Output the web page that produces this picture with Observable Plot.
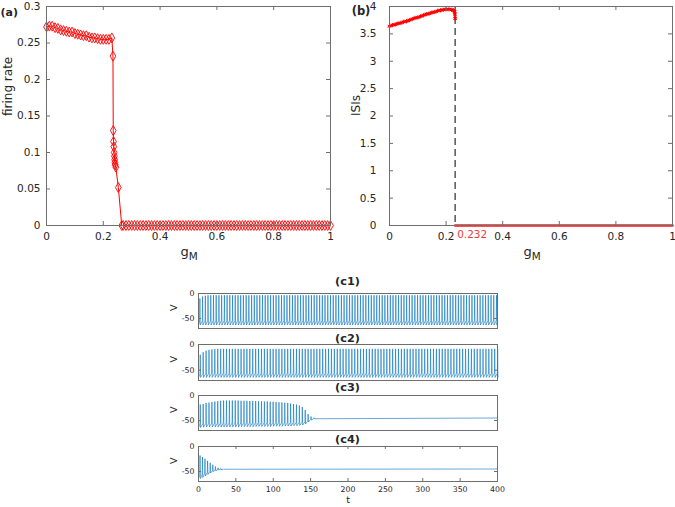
<!DOCTYPE html>
<html><head><meta charset="utf-8">
<script src="https://cdn.jsdelivr.net/npm/d3@7"></script>
<script src="https://cdn.jsdelivr.net/npm/@observablehq/plot@0.6"></script>
<style>
html,body{margin:0;padding:0;background:#fff;}
#fig{position:relative;width:675px;height:507px;overflow:hidden;font-family:"DejaVu Sans",sans-serif;color:#262626;background:#fff;}
.lbl{position:absolute;transform:translate(-50%,-50%);white-space:nowrap;line-height:1;}
.b{font-weight:bold;}
</style></head><body><div id="fig"></div>
<script>
// ---------- (a) firing rate vs g_M ----------
const aGPlateau = [0,0.01,0.02,0.03,0.04,0.05,0.06,0.07,0.08,0.09,0.10,0.11,0.12,0.13,0.14,0.15,0.16,0.17,0.18,0.19,0.20,0.21,0.22,0.23];
const aRatePlateau = [0.272,0.273,0.273,0.271,0.270,0.268,0.267,0.266,0.265,0.265,0.263,0.262,0.261,0.260,0.260,0.258,0.257,0.257,0.256,0.255,0.255,0.255,0.255,0.257];
const aGDrop = [0.234,0.235,0.236,0.237,0.238,0.239,0.240,0.241,0.242,0.244,0.253,0.265];
const aRateDrop = [0.232,0.130,0.115,0.108,0.100,0.095,0.090,0.086,0.083,0.080,0.052,0];
const aGZero = [0.27,0.28,0.29,0.30,0.31,0.32,0.33,0.34,0.35,0.36,0.37,0.38,0.39,0.40,0.41,0.42,0.43,0.44,0.45,0.46,0.47,0.48,0.49,0.50,0.51,0.52,0.53,0.54,0.55,0.56,0.57,0.58,0.59,0.60,0.61,0.62,0.63,0.64,0.65,0.66,0.67,0.68,0.69,0.70,0.71,0.72,0.73,0.74,0.75,0.76,0.77,0.78,0.79,0.80,0.81,0.82,0.83,0.84,0.85,0.86,0.87,0.88,0.89,0.90,0.91,0.92,0.93,0.94,0.95,0.96,0.97,0.98,0.99,1.00];
const zeroRate = 0;
const aXTicks = [0,0.2,0.4,0.6,0.8,1];
const aYTicks = [0,0.05,0.1,0.15,0.2,0.25,0.3];

// ---------- (b) ISIs vs g_M ----------
const bG = [0,0.01,0.02,0.03,0.04,0.05,0.06,0.07,0.08,0.09,0.10,0.11,0.12,0.13,0.14,0.15,0.16,0.17,0.18,0.19,0.20,0.21,0.22,0.225,0.23,0.231,0.232];
const bISI = [3.64,3.66,3.67,3.69,3.70,3.72,3.73,3.75,3.77,3.79,3.80,3.82,3.84,3.86,3.87,3.89,3.90,3.92,3.93,3.94,3.95,3.95,3.94,3.93,3.91,3.86,3.78];
const gCrit = 0.232;
const zeroISI = 0;
const bXTicks = [0,0.2,0.4,0.6,0.8,1];
const bYTicks = [0,0.5,1,1.5,2,2.5,3,3.5,4];

// ---------- (c1)-(c4) voltage traces ----------
const c1Times = [1.5,5.1,8.8,12.4,16.1,19.7,23.3,27.0,30.6,34.3,37.9,41.5,45.2,48.8,52.5,56.1,59.7,63.4,67.0,70.7,74.3,77.9,81.6,85.2,88.9,92.5,96.1,99.8,103.4,107.1,110.7,114.3,118.0,121.6,125.3,128.9,132.5,136.2,139.8,143.5,147.1,150.7,154.4,158.0,161.7,165.3,168.9,172.6,176.2,179.9,183.5,187.1,190.8,194.4,198.1,201.7,205.3,209.0,212.6,216.3,219.9,223.5,227.2,230.8,234.5,238.1,241.7,245.4,249.0,252.7,256.3,259.9,263.6,267.2,270.9,274.5,278.1,281.8,285.4,289.1,292.7,296.3,300.0,303.6,307.3,310.9,314.5,318.2,321.8,325.5,329.1,332.7,336.4,340.0,343.7,347.3,350.9,354.6,358.2,361.9,365.5,369.1,372.8,376.4,380.1,383.7,387.3,391.0,394.6,398.3];
const c1FirstPeaks = [-10,-6,-4.5];
const c1Peak = -3.5;
const c1Trough = -63;

const c2Times = [2,5.9,9.8,13.7,17.6,21.5,25.4,29.3,33.2,37.1,41,44.9,48.8,52.7,56.6,60.5,64.4,68.3,72.2,76.1,80,83.9,87.8,91.7,95.6,99.5,103.4,107.3,111.2,115.1,119,122.9,126.8,130.7,134.6,138.5,142.4,146.3,150.2,154.1,158,161.9,165.8,169.7,173.6,177.5,181.4,185.3,189.2,193.1,197,200.9,204.8,208.7,212.6,216.5,220.4,224.3,228.2,232.1,236,239.9,243.8,247.7,251.6,255.5,259.4,263.3,267.2,271.1,275,278.9,282.8,286.7,290.6,294.5,298.4,302.3,306.2,310.1,314,317.9,321.8,325.7,329.6,333.5,337.4,341.3,345.2,349.1,353,356.9,360.8,364.7,368.6,372.5,376.4,380.3,384.2,388.1,392,395.9,399.8];
const c2FirstPeaks = [-20,-15,-12,-10.5,-9.5,-9];
const c2Peak = -8.5;
const c2Trough = -64;

const c3Times = [2,5.9,9.8,13.7,17.6,21.5,25.4,29.3,33.2,37.1,41,44.9,48.8,52.7,56.6,60.5,64.4,68.3,72.2,76.1,80,83.9,87.8,91.7,95.6,99.5,103.4,107.3,111.2,115.1,119,122.9,126.8,130.7,134.6,138.5,142.4,146.3,150.2,154.1];
const c3Peaks = [-18,-17,-15,-14,-13,-12,-11,-10.5,-10,-10,-10,-10,-10,-10,-10.5,-10.5,-10.5,-11,-11,-11,-11.5,-11.5,-12,-12,-12.5,-12.5,-13,-13.5,-14,-14.5,-15,-16,-17,-18,-20,-23,-29,-37,-42,-44.5];
const c3Troughs = [-64,-63.5,-63,-63,-63,-63,-63,-63,-63,-63,-63,-63,-63,-63,-62.5,-62.5,-62.5,-62.5,-62.5,-62,-62,-62,-62,-62,-62,-61.5,-61.5,-61.5,-61.5,-61,-61,-61,-60.5,-60.5,-60,-59,-57,-53,-49,-46.5];
const c3Rest = -45;

const c4Times = [1.7,4.9,8.3,11.8,15.3,18.8,22.3,25.8,29.3,32.8];
const c4Peaks = [-18,-21,-24.5,-28.5,-32.5,-36.5,-40,-42.5,-44,-44.8];
const c4Troughs = [-64,-62,-59,-56,-53,-50.5,-48.5,-47,-46,-45.5];
const c4Rest = -45;

const cXTicks = [0,50,100,150,200,250,300,350,400];
const cYTicks = [-50,0];

// ---------- helpers ----------
const FONT = '"DejaVu Sans", sans-serif';
const TXT = "#262626";
const FRAME = "#6e6e6e";
const fig = document.getElementById("fig");

function innerTicks(xt, yt, fw, fh, len) {
  const m = [];
  if (xt) m.push(
    Plot.tickX(xt, {x: d => d, insetTop: fh - len, stroke: FRAME}),
    Plot.tickX(xt, {x: d => d, insetBottom: fh - len, stroke: FRAME}));
  if (yt) m.push(
    Plot.tickY(yt, {y: d => d, insetRight: fw - len, stroke: FRAME}),
    Plot.tickY(yt, {y: d => d, insetLeft: fw - len, stroke: FRAME}));
  return m;
}
function place(svg, left, top) {
  svg.style.position = "absolute";
  svg.style.left = left + "px";
  svg.style.top = top + "px";
  svg.style.overflow = "visible";
  fig.appendChild(svg);
}
function label(html, x, y, size, cls, extra) {
  const d = document.createElement("div");
  d.className = "lbl " + (cls || "");
  d.style.left = x + "px"; d.style.top = y + "px"; d.style.fontSize = size + "px";
  if (extra) Object.assign(d.style, extra);
  d.innerHTML = html;
  fig.appendChild(d);
}
function buildTrace(times, peaks, troughs, endV) {
  const pts = [{t: 0, v: troughs[0]}];
  times.forEach((t, i) => {
    const p = peaks[i], q = troughs[i];
    pts.push({t: t, v: q + 0.15 * (p - q)});
    pts.push({t: t + 0.35, v: p});
    pts.push({t: t + 0.8, v: q});
  });
  pts.push({t: 400, v: endV});
  return pts;
}

// ---------- panel (a) ----------
{
  const W = 340, H = 270, ML = 46, MR = 10, MT = 6, MB = 45;
  const fw = W - ML - MR, fh = H - MT - MB;
  const rows = [
    ...aGPlateau.map((g, i) => ({g, r: aRatePlateau[i]})),
    ...aGDrop.map((g, i) => ({g, r: aRateDrop[i]})),
    ...aGZero.map(g => ({g, r: zeroRate}))
  ];
  const svg = Plot.plot({
    width: W, height: H, marginLeft: ML, marginRight: MR, marginTop: MT, marginBottom: MB,
    style: {fontFamily: FONT, fontSize: "10.5px", color: TXT, background: "transparent"},
    x: {domain: [0, 1], ticks: aXTicks, tickSize: 0, tickPadding: 7, tickFormat: d => String(d), label: null},
    y: {domain: [0, 0.3], ticks: aYTicks, tickSize: 0, tickPadding: 6, tickFormat: d => String(d), label: null},
    marks: [
      Plot.line(rows, {x: "g", y: "r", stroke: "#ff0000", strokeWidth: 1}),
      Plot.dot(rows, {x: "g", y: "r", symbol: "diamond", r: 3, stroke: "#ff0000", fill: "none", strokeWidth: 0.9}),
      ...innerTicks(aXTicks, aYTicks, fw, fh, 4),
      Plot.frame({stroke: FRAME}),
      Plot.text(["firing rate"], {frameAnchor: "left", text: d => d, rotate: -90, dx: -38, fontSize: 12, fill: TXT})
    ]
  });
  place(svg, 0, 0);
  label("g<sub style='font-size:0.8em'>M</sub>", 189, 253, 13);
  label("(a)", 0.5, 12, 11, "b", {transform: "translate(0,-50%)"});
}

// ---------- panel (b) ----------
{
  const W = 335, H = 270, ML = 49, MR = 3, MT = 6, MB = 45;
  const fw = W - ML - MR, fh = H - MT - MB;
  const rows = bG.map((g, i) => ({g, v: bISI[i]}));
  const zeroRows = [gCrit, ...aGZero].map(g => ({g, v: zeroISI}));
  const svg = Plot.plot({
    width: W, height: H, marginLeft: ML, marginRight: MR, marginTop: MT, marginBottom: MB,
    style: {fontFamily: FONT, fontSize: "10.5px", color: TXT, background: "transparent"},
    x: {domain: [0, 1], ticks: bXTicks, tickSize: 0, tickPadding: 7, tickFormat: d => String(d), label: null},
    y: {domain: [0, 4], ticks: bYTicks, tickSize: 0, tickPadding: 13, tickFormat: d => String(d), label: null},
    marks: [
      Plot.ruleX([gCrit], {x: d => d, stroke: "#555", strokeWidth: 1.5, strokeDasharray: "7,4"}),
      Plot.line(rows, {x: "g", y: "v", stroke: "#ff1a1a", strokeWidth: 2.6}),
      Plot.dot(rows, {x: "g", y: "v", symbol: "asterisk", r: 2, stroke: "#ff0000", strokeWidth: 1}),
      Plot.line(zeroRows, {x: "g", y: "v", stroke: "#ff1a1a", strokeWidth: 2.6}),
      ...innerTicks(bXTicks, bYTicks, fw, fh, 4),
      Plot.frame({stroke: FRAME}),
      Plot.text([gCrit], {x: d => d, frameAnchor: "bottom", text: d => String(d), fill: "#f03c3c", textAnchor: "start", dx: 2, dy: 12, fontSize: 10.5}),
      Plot.text(["ISIs"], {frameAnchor: "left", text: d => d, rotate: -90, dx: -33, fontSize: 12, fill: TXT})
    ]
  });
  place(svg, 340, 0);
  label("g<sub style='font-size:0.8em'>M</sub>", 532, 253, 13);
  label("(b)", 361, 12, 11.5, "b");
}

// ---------- panels (c1)-(c4) ----------
function cPanel(rows, top, frameH, showX) {
  const W = 345, ML = 38, MR = 8, MT = 5, MB = showX ? 26 : 5;
  const H = MT + frameH + MB;
  const fw = W - ML - MR;
  const svg = Plot.plot({
    width: W, height: H, marginLeft: ML, marginRight: MR, marginTop: MT, marginBottom: MB,
    style: {fontFamily: FONT, fontSize: "7.8px", color: TXT, background: "transparent"},
    x: {domain: [0, 400], ticks: cXTicks, tickSize: 0, tickPadding: 5, tickFormat: d => String(d), label: null, axis: showX ? "bottom" : null},
    y: {domain: [-70, 0], ticks: cYTicks, tickSize: 0, tickPadding: 4, tickFormat: d => String(d), label: null},
    marks: [
      Plot.line(rows, {x: "t", y: "v", stroke: "#0072BD", strokeWidth: 0.6}),
      ...innerTicks(showX ? cXTicks : null, cYTicks, fw, frameH, 3),
      Plot.frame({stroke: FRAME}),
      Plot.text(["V"], {frameAnchor: "left", text: d => d, rotate: -90, dx: -25, fontSize: 9.5, fill: TXT}),
      ...(showX ? [Plot.text(["t"], {frameAnchor: "bottom", text: d => d, dy: 21, fontSize: 9.5, fill: TXT})] : [])
    ]
  });
  place(svg, 160, top - MT);
}
const c1Rows = buildTrace(c1Times, c1Times.map((t, i) => i < c1FirstPeaks.length ? c1FirstPeaks[i] : c1Peak), c1Times.map(() => c1Trough), -58);
const c2Rows = buildTrace(c2Times, c2Times.map((t, i) => i < c2FirstPeaks.length ? c2FirstPeaks[i] : c2Peak), c2Times.map(() => c2Trough), -58);
const c3Rows = buildTrace(c3Times, c3Peaks, c3Troughs, c3Rest);
const c4Rows = buildTrace(c4Times, c4Peaks, c4Troughs, c4Rest);
cPanel(c1Rows, 293, 35, false);
cPanel(c2Rows, 344, 36, false);
cPanel(c3Rows, 395, 35, false);
cPanel(c4Rows, 446, 35, true);
label("(c1)", 347.5, 282, 11.3, "b");
label("(c2)", 347.5, 338.5, 11.3, "b");
label("(c3)", 347.5, 388, 11.3, "b");
label("(c4)", 347.5, 440, 11.3, "b");
</script></body></html>
